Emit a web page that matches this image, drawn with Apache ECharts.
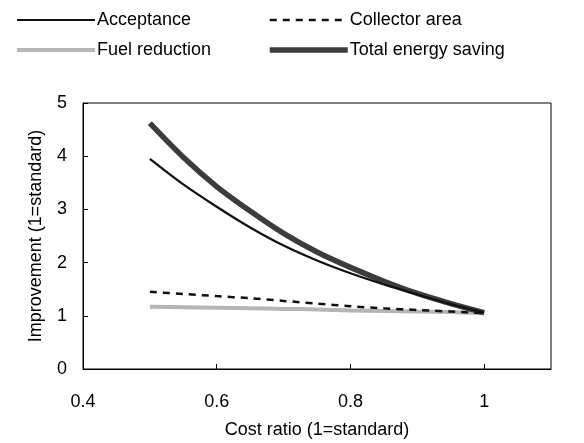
<!DOCTYPE html>
<html>
<head>
<meta charset="utf-8">
<script src="https://cdn.jsdelivr.net/npm/echarts@6/dist/echarts.min.js"></script>
<style>html,body{margin:0;padding:0;background:#fff}#c{width:584px;height:443px}</style>
</head>
<body>
<div id="c"></div>
<script>
const costRatio = [0.5, 0.55, 0.6, 0.65, 0.7, 0.75, 0.8, 0.85, 0.9, 0.95, 1.0];
const acceptance = [3.95, 3.47, 3.05, 2.66, 2.32, 2.04, 1.80, 1.59, 1.40, 1.22, 1.06];
const collectorArea = [1.45, 1.41, 1.37, 1.33, 1.28, 1.23, 1.18, 1.14, 1.11, 1.08, 1.05];
const fuelReduction = [1.17, 1.16, 1.15, 1.14, 1.13, 1.12, 1.10, 1.09, 1.08, 1.07, 1.05];
const totalEnergySaving = [4.62, 3.98, 3.43, 2.97, 2.55, 2.20, 1.91, 1.65, 1.42, 1.23, 1.06];

const pairs = arr => costRatio.map((x, i) => [x, arr[i]]);
const font = 'Liberation Sans, Arial, sans-serif';
const fs = 18;

const styles = {
  'Acceptance': { color: '#111', width: 2.2, type: 'solid' },
  'Collector area': { color: '#111', width: 2.5, type: [7, 6] },
  'Fuel reduction': { color: '#b5b5b5', width: 4, type: 'solid' },
  'Total energy saving': { color: '#3c3c3c', width: 5.5, type: 'solid' }
};

const legendItem = name => ({ name, lineStyle: Object.assign({}, styles[name]) });
const legendBase = {
  orient: 'vertical', top: 6,
  itemWidth: 78, itemHeight: 14, itemGap: 12,
  itemStyle: { opacity: 0 },
  textStyle: { fontFamily: font, fontSize: fs, color: '#000', padding: [0, 0, 0, -3] }
};

const mkSeries = (name, arr, z) => ({
  name, type: 'line', data: pairs(arr), smooth: 0.3, symbol: 'none',
  lineStyle: Object.assign({}, styles[name]), itemStyle: { color: styles[name].color }, z
});

const chart = echarts.init(document.getElementById('c'));
chart.setOption({
  animation: false,
  backgroundColor: '#fff',
  textStyle: { fontFamily: font, color: '#000' },
  legend: [
    Object.assign({}, legendBase, { data: [legendItem('Acceptance'), legendItem('Fuel reduction')], left: 10 }),
    Object.assign({}, legendBase, { data: [legendItem('Collector area'), legendItem('Total energy saving')], left: 262 })
  ],
  grid: { left: 83, right: 33, top: 103, bottom: 74, show: true, borderColor: '#000', borderWidth: 1,
    outerBoundsMode: 'none', containLabel: false },
  xAxis: {
    type: 'value', min: 0.4, max: 1.1, interval: 0.2,
    name: 'Cost ratio (1=standard)', nameLocation: 'middle', nameGap: 52,
    nameTextStyle: { fontFamily: font, fontSize: fs, color: '#000' },
    axisLine: { lineStyle: { color: '#000', width: 1 } },
    axisTick: { inside: true, length: 5, lineStyle: { color: '#000' } },
    axisLabel: { fontFamily: font, fontSize: fs, color: '#000', margin: 24, showMaxLabel: false,
      formatter: v => String(+v.toFixed(1)) },
    splitLine: { show: false }
  },
  yAxis: {
    type: 'value', min: 0, max: 5, interval: 1,
    name: 'Improvement (1=standard)', nameLocation: 'middle', nameGap: 38,
    nameTextStyle: { fontFamily: font, fontSize: fs, color: '#000' },
    axisLine: { show: true, lineStyle: { color: '#000', width: 1 } },
    axisTick: { show: true, inside: true, length: 5, lineStyle: { color: '#000' } },
    axisLabel: { fontFamily: font, fontSize: fs, color: '#000', margin: 16 },
    splitLine: { show: false }
  },
  series: [
    mkSeries('Acceptance', acceptance, 3),
    mkSeries('Collector area', collectorArea, 3),
    mkSeries('Fuel reduction', fuelReduction, 2),
    mkSeries('Total energy saving', totalEnergySaving, 2)
  ]
});
</script>
</body>
</html>
